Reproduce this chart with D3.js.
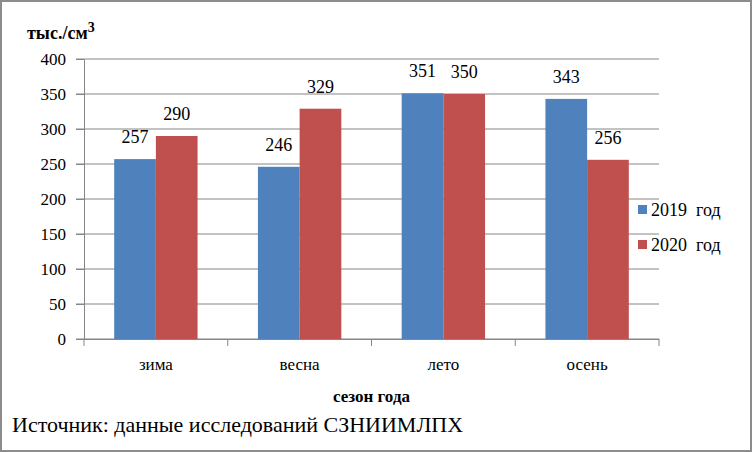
<!DOCTYPE html>
<html><head><meta charset="utf-8">
<script src="https://cdn.jsdelivr.net/npm/d3@7"></script>
</head><body style="margin:0;background:#fff">
<script>
const categories = ["зима", "весна", "лето", "осень"];
const seriesNames = ["2019  год", "2020  год"];
const values2019 = [257, 246, 351, 343];
const values2020 = [290, 329, 350, 256];
const yTicks = [0, 50, 100, 150, 200, 250, 300, 350, 400];
const colors = ["#4F81BD", "#C0504D"];
const FONT = "serif";

const W = 752, H = 452;
const svg = d3.select("body").append("svg").attr("width", W).attr("height", H)
  .style("display", "block").style("font-family", FONT);
svg.append("rect").attr("x", 1).attr("y", 1).attr("width", W - 2).attr("height", H - 2)
  .attr("fill", "#fff").attr("stroke", "#8c8c8c").attr("stroke-width", 2);

const pL = 84, pR = 659, pT = 59, pB = 339;
const x = d3.scaleBand().domain(categories).range([pL, pR]).paddingInner(0.42).paddingOuter(0.21);
const xs = d3.scaleBand().domain([0, 1]).range([0, x.bandwidth()]);
const y = d3.scaleLinear().domain([0, 400]).range([pB, pT]);

svg.append("g").selectAll("line").data(yTicks).join("line")
  .attr("x1", pL - 8).attr("x2", pR).attr("y1", d => y(d)).attr("y2", d => y(d))
  .attr("stroke", "#868686").attr("stroke-width", 1);

const yAxis = svg.append("g").attr("transform", `translate(${pL},0)`)
  .call(d3.axisLeft(y).tickValues(yTicks).tickSize(8).tickPadding(10));
yAxis.attr("font-family", null).attr("font-size", null);
yAxis.select(".domain").attr("stroke", "#868686");
yAxis.selectAll(".tick line").attr("stroke", "#868686");
yAxis.selectAll("text").attr("fill", "#000").style("font-size", "17px").style("font-family", FONT);

const step = (pR - pL) / categories.length;
const xAxis = svg.append("g").attr("transform", `translate(0,${pB})`)
  .call(d3.axisBottom(x).tickSize(0).tickPadding(19));
xAxis.attr("font-family", null).attr("font-size", null);
xAxis.select(".domain").attr("stroke", "#868686");
xAxis.selectAll("text").attr("fill", "#000").style("font-size", "17px").style("font-family", FONT);
svg.append("g").selectAll("line").data(d3.range(categories.length + 1)).join("line")
  .attr("x1", i => pL + i * step).attr("x2", i => pL + i * step)
  .attr("y1", pB).attr("y2", pB + 7).attr("stroke", "#868686");

const data = categories.map((c, i) => ({ c, v: [values2019[i], values2020[i]] }));
const g = svg.append("g").selectAll("g").data(data).join("g")
  .attr("transform", d => `translate(${x(d.c)},0)`);
g.selectAll("rect").data(d => d.v).join("rect")
  .attr("x", (v, i) => xs(i)).attr("width", xs.bandwidth())
  .attr("y", v => y(v)).attr("height", v => pB - y(v))
  .attr("fill", (v, i) => colors[i]);
g.selectAll("text").data(d => d.v).join("text")
  .attr("x", (v, i) => xs(i) + xs.bandwidth() / 2).attr("y", v => y(v) - 16)
  .attr("text-anchor", "middle").attr("fill", "#000")
  .style("font-size", "18px").style("font-family", FONT).text(v => v);

const t = svg.append("text").attr("x", 27).attr("y", 39)
  .style("font-size", "18px").style("font-weight", "bold").style("font-family", FONT);
t.append("tspan").text("тыс./см");
t.append("tspan").attr("dy", -7).style("font-size", "14px").text("3");

svg.append("text").attr("x", (pL + pR) / 2).attr("y", 402).attr("text-anchor", "middle")
  .style("font-size", "17px").style("font-weight", "bold").style("font-family", FONT).text("сезон года");

svg.append("text").attr("x", 12).attr("y", 432)
  .style("font-size", "22px").style("font-family", FONT)
  .text("Источник: данные исследований СЗНИИМЛПХ");

const lg = svg.append("g").selectAll("g").data(seriesNames).join("g")
  .attr("transform", (d, i) => `translate(638,${205 + i * 35})`);
lg.append("rect").attr("width", 9).attr("height", 9).attr("fill", (d, i) => colors[i]);
lg.append("text").attr("x", 13).attr("y", 11)
  .style("font-size", "18px").style("font-family", FONT)
  .style("white-space", "pre").text(d => d);
</script>
</body></html>
